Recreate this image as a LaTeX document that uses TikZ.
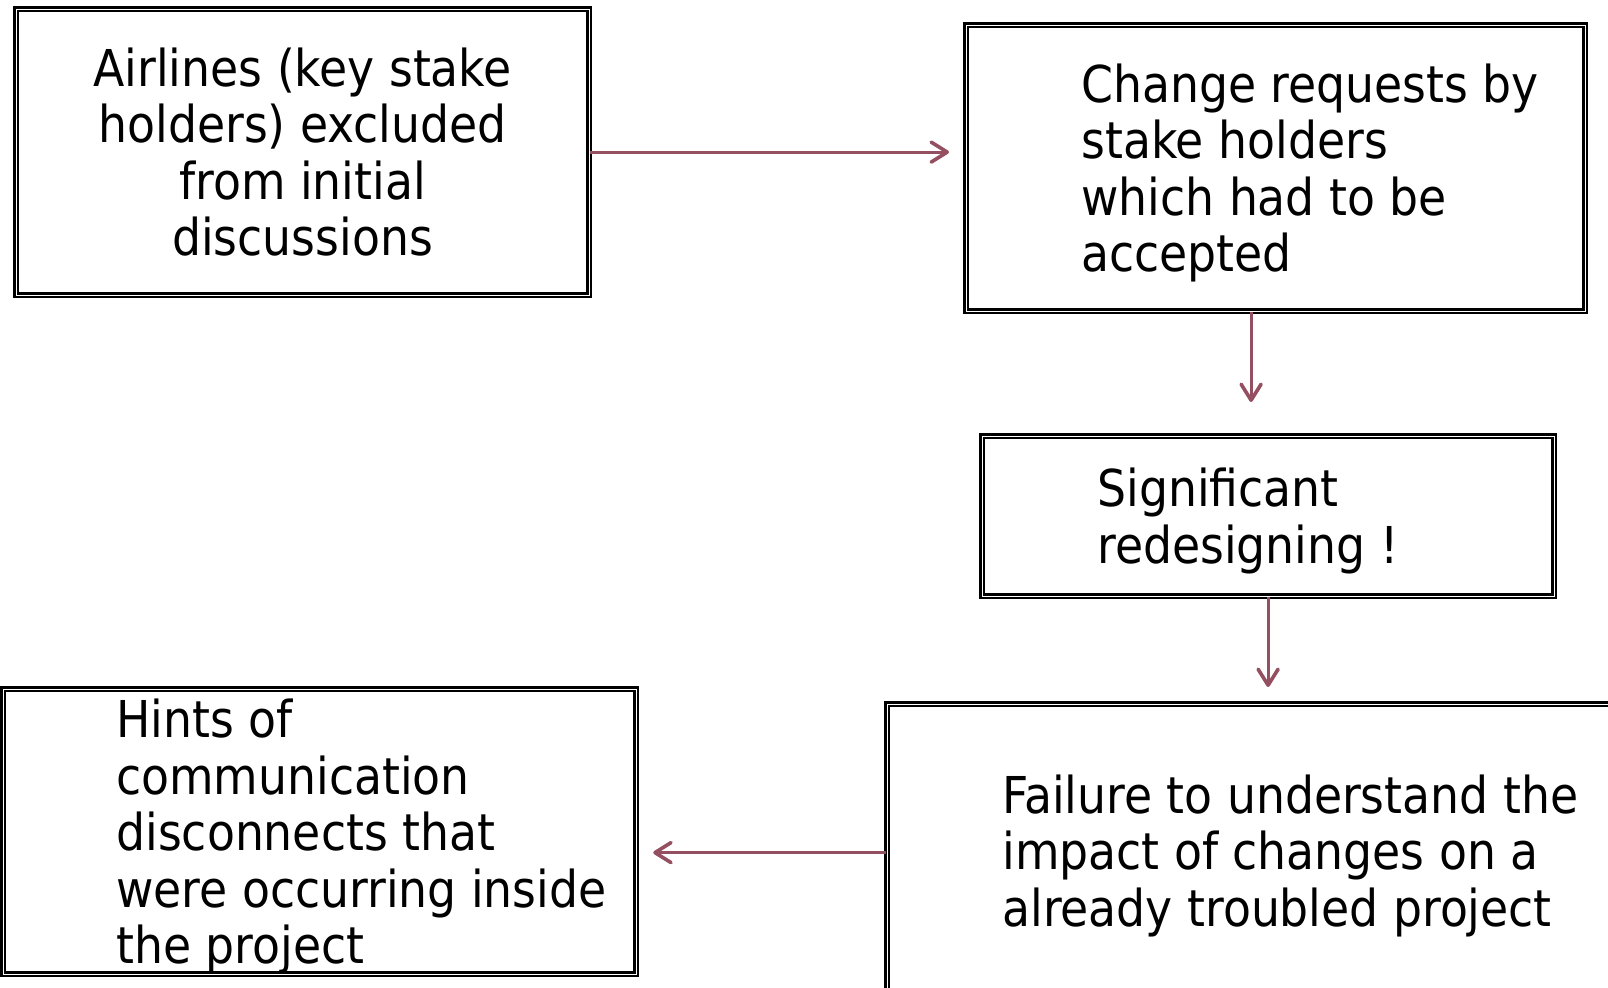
\documentclass[tikz,border=0pt]{standalone}
\usepackage{fontspec}
\setmainfont{DejaVu Sans Condensed}
\usepackage{xcolor}
\definecolor{arrowred}{RGB}{148,80,96}
\usetikzlibrary{arrows.meta,positioning}

\begin{document}
\begin{tikzpicture}[
  x=0.5pt, y=-0.5pt,
  font=\fontsize{25.4}{28.2}\selectfont,
  box/.style = {draw, double, double distance=0.5pt, line width=1.1pt,
                anchor=north west, inner sep=0pt},
  txt/.style = {align=left, inner sep=0pt, yshift=-2.5pt},
  arr/.style = {-{Straight Barb[length=8pt, width=10pt, line width=1.8pt, round]}, line width=1.6pt, arrowred},
]
\clip (0,0) rectangle (1608,987);
\useasboundingbox (0,0) rectangle (1608,987);

\node[box, minimum width=286.5pt, minimum height=143pt, align=center] at (15,8) (airl)
  {Airlines (key stake\\holders) excluded\\from initial\\discussions};
\node[box, minimum width=309.5pt, minimum height=143pt] at (965,24)  (chg)   {};
\node[box, minimum width=286pt,   minimum height=80pt]  at (981,435) (redes) {};
\node[box, minimum width=369.5pt, minimum height=148.5pt] at (886,703) (fail) {};
\node[box, minimum width=316.5pt, minimum height=142.5pt] at (2,688) (hints) {};

\node[txt, right=58pt of chg.west]   (chgtxt)   {Change requests by\\stake holders\\which had to be\\accepted};
\node[txt, right=58pt of redes.west] (redestxt) {Significant\\redesigning !};
\node[txt, right=58pt of fail.west, yshift=1pt]  (failtxt)  {Failure to understand the\\impact of changes on a\\already troubled project};
\node[txt, right=57pt of hints.west] (hintstxt) {Hints of\\communication\\disconnects that\\were occurring inside\\the project};

\draw[arr, shorten >=8pt] (airl.east) -- (airl.east -| chg.west);
\draw[arr, shorten >=16.5pt] ([xshift=-12.25pt]chg.south) -- ([xshift=-12.25pt]chg.south |- redes.north);
\draw[arr, shorten >=8pt] (redes.south) -- (redes.south |- fail.north);
\draw[arr, shorten >=8pt] (fail.west) -- (fail.west -| hints.east);
\end{tikzpicture}
\end{document}
